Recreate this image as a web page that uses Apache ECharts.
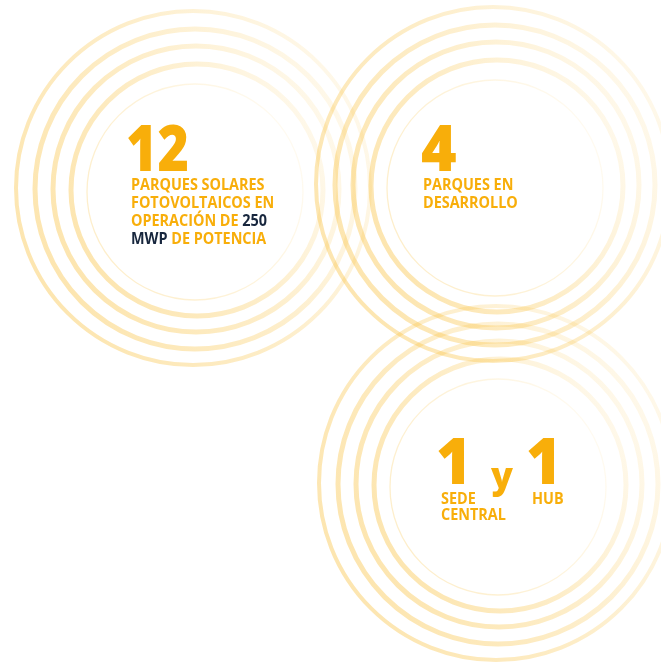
<!DOCTYPE html>
<html>
<head>
<meta charset="utf-8">
<script src="https://cdn.jsdelivr.net/npm/echarts@6/dist/echarts.min.js"></script>
<style>
  html, body { margin: 0; padding: 0; background: #ffffff; }
  #chart { width: 661px; height: 666px; }
</style>
</head>
<body>
<div id="chart"></div>
<script>
// ---- data ----
const statNumbers = ['12', '4', '1', '1'];
const capacityMWp = '250';
const captionSolar = ['PARQUES SOLARES', 'FOTOVOLTAICOS EN', 'OPERACIÓN DE {d|' + capacityMWp + '}', '{d|MWP} DE POTENCIA'];
const captionDesarrollo = ['PARQUES EN', 'DESARROLLO'];
const captionSede = ['SEDE', 'CENTRAL'];
const captionHub = ['HUB'];
const connectorWord = 'y';

// ---- layout / style ----
const GOLD = '#F8AE0A';
const NAVY = '#17263D';
const FONT = '"Open Sans", "Noto Sans", sans-serif';
const ringCenters = [[193, 188], [493, 184], [496, 483]];
const ringRadii = [177, 160, 143, 126, 108];
const ringWidths = [4, 5, 5, 5, 1.3];
const ringShift = [[0, 0], [2, 1], [3, 1], [4, 2], [2, 4]];

const chart = echarts.init(document.getElementById('chart'), null, { renderer: 'canvas', width: 661, height: 666 });

function ringStroke(thin) {
  const a0 = thin ? 0.28 : 0.42;
  const a1 = thin ? 0.06 : 0.09;
  return new echarts.graphic.LinearGradient(0, 0.75, 1, 0.25, [
    { offset: 0, color: 'rgba(249,192,60,' + a0 + ')' },
    { offset: 0.5, color: 'rgba(249,192,60,' + ((a0 * 0.6 + a1 * 0.4)) + ')' },
    { offset: 1, color: 'rgba(249,192,60,' + a1 + ')' }
  ]);
}

const graphics = [];
ringCenters.forEach(function (c) {
  ringRadii.forEach(function (r, i) {
    graphics.push({
      type: 'circle',
      silent: true,
      shape: { cx: c[0] + ringShift[i][0], cy: c[1] + ringShift[i][1], r: r },
      style: { fill: 'none', stroke: ringStroke(i === ringRadii.length - 1), lineWidth: ringWidths[i] }
    });
  });
});

function txt(str, x, y, size, sx, weight, color, rich) {
  const el = {
    type: 'text',
    silent: true,
    x: x, y: y,
    scaleX: sx, scaleY: 1,
    style: {
      text: str, x: 0, y: 0,
      fill: color || GOLD,
      font: weight + ' ' + size + 'px ' + FONT,
      textAlign: 'left',
      textVerticalAlign: 'middle'
    }
  };
  if (rich) el.style.rich = rich;
  return el;
}

const BIG = 64, SMALL = 16, SX = 0.9, LH = 18, WB = 800, WS = 700;
const richNavy = { d: { fill: NAVY, font: WS + ' ' + SMALL + 'px ' + FONT } };

// circle 1
graphics.push(txt(statNumbers[0], 126, 153, BIG, 0.84, WB));
captionSolar.forEach(function (s, i) {
  graphics.push(txt(s, 131, 185 + i * LH, SMALL, SX, WS, GOLD, richNavy));
});
// circle 2
graphics.push(txt(statNumbers[1], 421, 153, BIG, 0.95, WB));
captionDesarrollo.forEach(function (s, i) {
  graphics.push(txt(s, 423, 185 + i * LH, SMALL, SX, WS));
});
// circle 3
graphics.push(txt(statNumbers[2], 436, 466, BIG, 0.95, WB));
graphics.push(txt(connectorWord, 491, 478, 36, 1, WB));
graphics.push(txt(statNumbers[3], 526, 466, BIG, 0.95, WB));
captionSede.forEach(function (s, i) {
  graphics.push(txt(s, 441, 499 + i * 16, SMALL, SX, WS));
});
captionHub.forEach(function (s, i) {
  graphics.push(txt(s, 532, 499 + i * 16, SMALL, SX, WS));
});

chart.setOption({
  animation: false,
  backgroundColor: '#ffffff',
  graphic: graphics
});
</script>
</body>
</html>
